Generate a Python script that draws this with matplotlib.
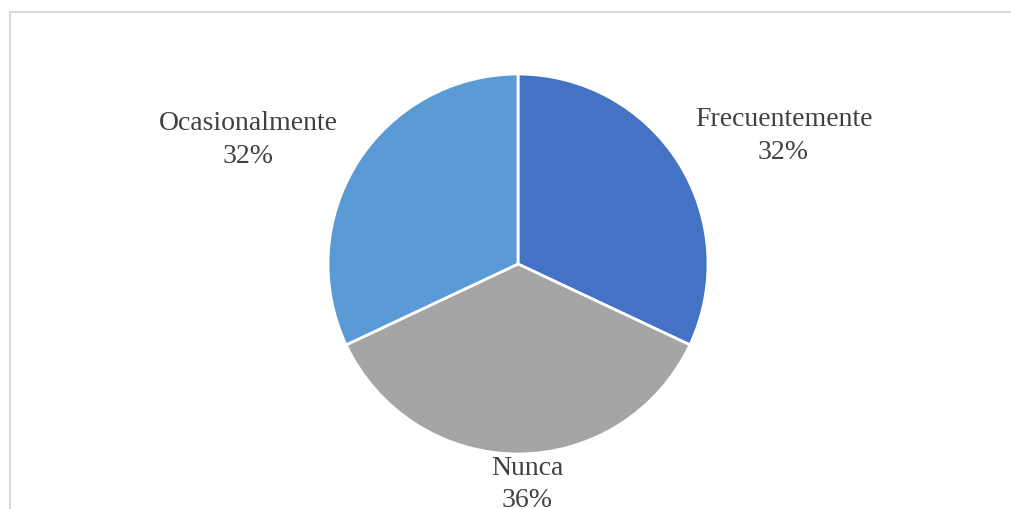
import matplotlib.pyplot as plt
import numpy as np
from matplotlib.lines import Line2D

# Datos del gráfico
categorias = ['Frecuentemente', 'Nunca', 'Ocasionalmente']
porcentajes = [32, 36, 32]
colores = ['#4472C4', '#A5A5A5', '#5B9BD5']

# distancia de cada etiqueta al centro (en radios) y desplazamiento angular
dist_etiqueta = [1.56, 1.14, 1.57]
giro_etiqueta = [-6, 2.4, 7]

plt.rcParams['font.family'] = ['Liberation Serif', 'DejaVu Serif']

fig = plt.figure(figsize=(10.11, 5.10), dpi=100)
ax = fig.add_axes([0, 0, 1, 1])

centro = (518, 245)
radio = 190

wedges, _ = ax.pie(porcentajes, colors=colores, startangle=90, counterclock=False,
                   center=centro, radius=radio,
                   wedgeprops=dict(edgecolor='white', linewidth=2))

# pie() fija sus propios límites, se reajustan a píxeles
ax.set_xlim(0, 1011)
ax.set_ylim(0, 510)
ax.set_aspect('equal')
ax.axis('off')

# Etiquetas con nombre y porcentaje
for w, cat, p, d, g in zip(wedges, categorias, porcentajes, dist_etiqueta, giro_etiqueta):
    ang = np.deg2rad((w.theta1 + w.theta2) / 2 + g)
    x = centro[0] + d * radio * np.cos(ang)
    y = centro[1] + d * radio * np.sin(ang) - 3
    ax.text(x, y, f'{cat}\n{p}%', ha='center', va='center', fontsize=20,
            color='#404040', linespacing=1.4)

# Borde del área del gráfico (solo arriba e izquierda visibles)
fig.add_artist(Line2D([9.5 / 1011, 9.5 / 1011], [0, 497.5 / 510], transform=fig.transFigure,
                      color='#D9D9D9', linewidth=1.5))
fig.add_artist(Line2D([9.5 / 1011, 1.0], [497.5 / 510, 497.5 / 510], transform=fig.transFigure,
                      color='#D9D9D9', linewidth=1.5))

fig.savefig('out.png', dpi=100)
